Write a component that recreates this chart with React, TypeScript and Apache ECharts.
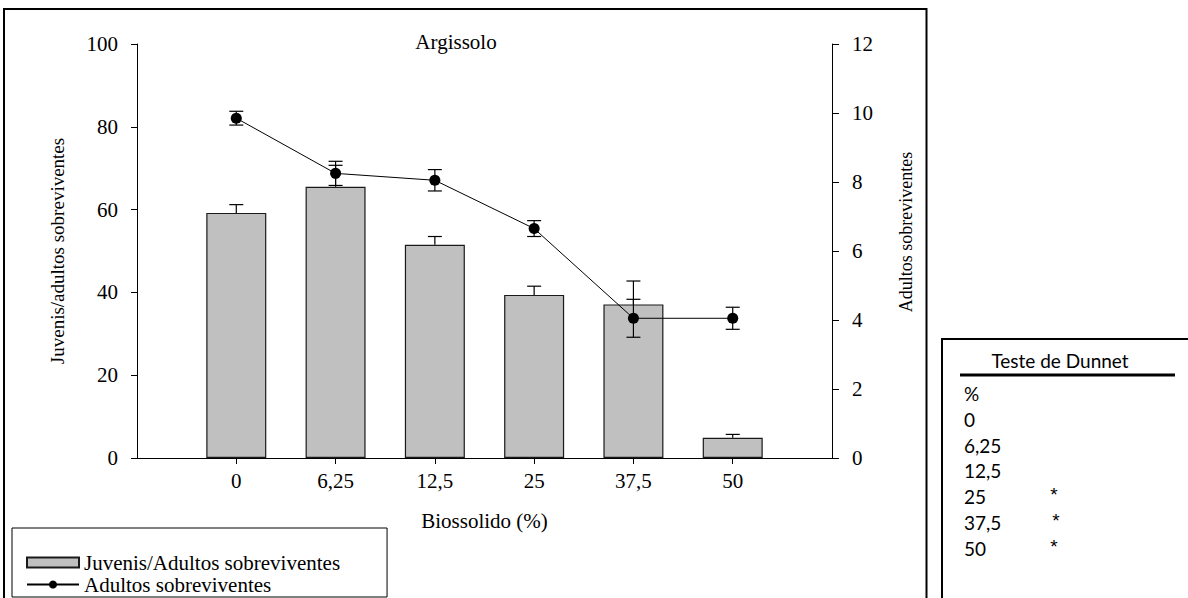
import React, { useEffect, useRef } from 'react';
import * as echarts from 'echarts';

const categories = ['0', '6,25', '12,5', '25', '37,5', '50'];
const juvenisValues = [59.2, 65.5, 51.5, 39.4, 37.1, 4.9];
const juvenisErrors = [2.0, 5.2, 2.0, 2.1, 5.65, 0.8];
const adultosValues = [9.85, 8.25, 8.05, 6.65, 4.05, 4.05];
const adultosErrors = [0.2, 0.35, 0.31, 0.23, 0.55, 0.32];
const dunnetDoses = ['0', '6,25', '12,5', '25', '37,5', '50'];
const dunnetMarks = ['', '', '', '*', '*', '*'];

const SERIF = 'Liberation Serif';
const SANS = 'Lato';

export default function App() {
  const ref = useRef<HTMLDivElement>(null);
  useEffect(() => {
    if (!ref.current) return;
    const chart = echarts.init(ref.current, undefined, { renderer: 'svg' });
    const axisCats = ['', ...categories, ''];
    const pad = (arr: number[]) => ['-', ...arr, '-'];

    const makeErr = (both: boolean) => (params: any, api: any) => {
      const x = api.value(0);
      const lo = api.value(1);
      const hi = api.value(2);
      const pHi = api.coord([x, hi]);
      const pLo = api.coord([x, lo]);
      const half = 7;
      const style = { stroke: '#000', lineWidth: 1.2, fill: null };
      const children: any[] = [
        { type: 'line', shape: { x1: pHi[0], y1: pHi[1], x2: pLo[0], y2: pLo[1] }, style },
        { type: 'line', shape: { x1: pHi[0] - half, y1: pHi[1], x2: pHi[0] + half, y2: pHi[1] }, style },
      ];
      if (both) {
        children.push({ type: 'line', shape: { x1: pLo[0] - half, y1: pLo[1], x2: pLo[0] + half, y2: pLo[1] }, style });
      }
      return { type: 'group', children };
    };

    const txt = (text: string, x: number, y: number, family: string, size: number, align: string = 'left', rotation = 0) => ({
      type: 'text', x, y, rotation,
      style: { text, fontFamily: family, fontSize: size, fill: '#000', textAlign: align, textVerticalAlign: 'middle' },
    });

    const dunnetGraphics: any[] = [];
    dunnetGraphics.push({
      type: 'rect',
      shape: { x: 942, y: 339, width: 260, height: 300 },
      style: { fill: 'transparent', stroke: '#000', lineWidth: 2 },
    });
    dunnetGraphics.push(txt('Teste de Dunnet', 1060, 360, SANS, 19, 'center'));
    dunnetGraphics.push({
      type: 'line', shape: { x1: 960, y1: 375, x2: 1175, y2: 375 },
      style: { stroke: '#000', lineWidth: 3 },
    });
    dunnetGraphics.push(txt('%', 964, 393, SANS, 19));
    dunnetDoses.forEach((d, i) => {
      const y = 419.3 + i * 25.8;
      dunnetGraphics.push(txt(d, 964, y, SANS, 19));
      if (dunnetMarks[i]) {
        dunnetGraphics.push(txt(dunnetMarks[i], i === 4 ? 1056 : 1054, y - 2, 'Liberation Sans', 19, 'center'));
      }
    });

    chart.setOption({
      animation: false,
      backgroundColor: '#fff',
      textStyle: { fontFamily: SERIF, color: '#000' },
      grid: { left: 137, right: 356, top: 44, bottom: 140, containLabel: false },
      legend: {
        left: 12,
        top: 528,
        height: 120,
        orient: 'vertical',
        data: [
          { name: 'Juvenis/Adultos sobreviventes', icon: 'rect' },
          { name: 'Adultos sobreviventes' },
        ],
        itemWidth: 52,
        itemHeight: 10,
        itemGap: 1,
        itemTextGap: 10,
        padding: [24, 47, 2, 14],
        borderColor: '#000',
        borderWidth: 1,
        textStyle: { fontFamily: SERIF, fontSize: 21, color: '#000' },
      },
      xAxis: {
        type: 'category',
        data: axisCats,
        boundaryGap: false,
        name: 'Biossolido (%)',
        nameLocation: 'middle',
        nameGap: 52,
        nameTextStyle: { fontFamily: SERIF, fontSize: 21, color: '#000' },
        axisLine: { lineStyle: { color: '#000', width: 1 } },
        axisTick: { length: 6, interval: (idx: number) => idx > 0 && idx < axisCats.length - 1, lineStyle: { color: '#000' } },
        axisLabel: { margin: 12, fontFamily: SERIF, fontSize: 21, color: '#000', interval: 0 },
        splitLine: { show: false },
      },
      yAxis: [
        {
          type: 'value', min: 0, max: 100, interval: 20, position: 'left',
          name: 'Juvenis/adultos sobreviventes',
          nameLocation: 'middle', nameRotate: 90, nameGap: 70,
          nameTextStyle: { fontFamily: SERIF, fontSize: 19, color: '#000' },
          axisLine: { show: true, lineStyle: { color: '#000', width: 1 } },
          axisTick: { show: true, length: 6, lineStyle: { color: '#000' } },
          axisLabel: { margin: 19, fontFamily: SERIF, fontSize: 21, color: '#000' },
          splitLine: { show: false },
        },
        {
          type: 'value', min: 0, max: 12, interval: 2, position: 'right',
          axisLine: { show: true, lineStyle: { color: '#000', width: 1 } },
          axisTick: { show: true, length: 7, lineStyle: { color: '#000' } },
          axisLabel: { margin: 20, fontFamily: SERIF, fontSize: 21, color: '#000' },
          splitLine: { show: false },
        },
      ],
      series: [
        {
          name: 'Juvenis/Adultos sobreviventes',
          type: 'bar',
          yAxisIndex: 0,
          data: pad(juvenisValues),
          barWidth: 60,
          itemStyle: { color: '#c0c0c0', borderColor: '#1a1a1a', borderWidth: 1.2 },
        },
        {
          name: 'juvenisErr',
          type: 'custom',
          yAxisIndex: 0,
          renderItem: makeErr(false),
          clip: false,
          encode: { x: 0, y: [1, 2] },
          data: juvenisValues.map((v, i) => [i + 1, v, v + juvenisErrors[i]]),
        },
        {
          name: 'Adultos sobreviventes',
          type: 'line',
          yAxisIndex: 1,
          data: pad(adultosValues),
          symbol: 'circle',
          symbolSize: 11,
          lineStyle: { color: '#000', width: 1 },
          itemStyle: { color: '#000' },
          z: 3,
        },
        {
          name: 'adultosErr',
          type: 'custom',
          yAxisIndex: 1,
          renderItem: makeErr(true),
          clip: false,
          encode: { x: 0, y: [1, 2] },
          data: adultosValues.map((v, i) => [i + 1, v - adultosErrors[i], v + adultosErrors[i]]),
          z: 4,
        },
      ],
      graphic: [
        {
          type: 'rect',
          shape: { x: 4, y: 9, width: 922.5, height: 640 },
          style: { fill: 'transparent', stroke: '#000', lineWidth: 2 },
          silent: true,
        },
        txt('Argissolo', 456, 42, SERIF, 21, 'center'),
        txt('Adultos sobreviventes', 906, 232, SERIF, 18, 'center', Math.PI / 2),
        ...dunnetGraphics,
      ],
    });
    return () => chart.dispose();
  }, []);
  return <div ref={ref} style={{ position: 'fixed', left: 0, top: 0, width: 1188, height: 598 }} />;
}
